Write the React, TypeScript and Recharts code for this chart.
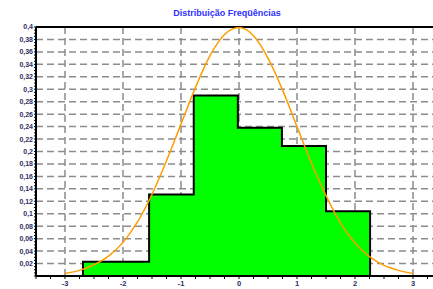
import { ComposedChart, Area, Line, XAxis, YAxis, CartesianGrid, ReferenceLine } from 'recharts';

// histogram: left bin edge -> frequency (step drawn to next edge)
const binEdges = [-3.5, -2.69, -1.55, -0.78, -0.02, 0.74, 1.5, 2.26, 3.5];
const binFreq = [0, 0.023, 0.131, 0.29, 0.238, 0.209, 0.104, 0, 0];

// orange curve
const curveX = [-3, -2.75, -2.5, -2.25, -2, -1.75, -1.5, -1.25, -1, -0.75, -0.5, -0.25, 0, 0.25, 0.5, 0.75, 1, 1.25, 1.5, 1.75, 2, 2.25, 2.5, 2.75, 3];
const curveY = [0.004, 0.009, 0.018, 0.032, 0.054, 0.087, 0.131, 0.185, 0.244, 0.303, 0.354, 0.388, 0.399, 0.386, 0.35, 0.299, 0.24, 0.181, 0.129, 0.085, 0.053, 0.031, 0.017, 0.009, 0.004];

const xLabels = [-3, -2, -1, 0, 1, 2, 3];
const yLabels = [0.02, 0.04, 0.06, 0.08, 0.1, 0.12, 0.14, 0.16, 0.18, 0.2, 0.22, 0.24, 0.26, 0.28, 0.3, 0.32, 0.34, 0.36, 0.38, 0.4];

const histData = binEdges.map((x, i) => ({ x, freq: binFreq[i] }));
const curveData = curveX.map((x, i) => ({ x, dens: curveY[i] }));

const xTicks: number[] = [];
for (let i = -14; i <= 14; i++) xTicks.push(i / 4);
const yTicks: number[] = [];
for (let i = 0; i <= 80; i++) yTicks.push(i / 200);

const isMult = (v: number, step: number) => Math.abs(v / step - Math.round(v / step)) < 1e-6;

const fmtY = (v: number) => (v > 0 && isMult(v, 0.02) ? String(Number(v.toFixed(2))).replace('.', ',') : '');
const fmtX = (v: number) => (isMult(v, 1) && Math.abs(v) < 3.2 ? String(Math.round(v)) : '');

const labelStyle = { fontSize: 7, fontWeight: 'bold' as const, fill: '#2e2e66', fontFamily: 'Liberation Sans, Arial, sans-serif' };

const App = () => (
  <div style={{ position: 'fixed', left: 0, top: 0, width: 433, height: 289, overflow: 'hidden', background: '#fff' }}>
    <div
      style={{
        position: 'absolute', left: 0, top: 8, width: 454, textAlign: 'center',
        fontFamily: 'Liberation Sans, Arial, sans-serif', fontSize: 9, fontWeight: 'bold', color: '#3030ff',
      }}
    >
      Distribuição Freqüências
    </div>
    <ComposedChart width={450} height={300} margin={{ top: 27, right: 8, left: 0, bottom: 4 }}>
      <CartesianGrid
        stroke="#8c8c8c"
        strokeWidth={1.5}
        strokeDasharray="7 4"
        verticalValues={xLabels}
        horizontalValues={yLabels}
      />
      <XAxis
        type="number"
        dataKey="x"
        domain={[-3.5, 3.5]}
        ticks={xTicks}
        interval={0}
        tickFormatter={fmtX}
        tick={{ ...labelStyle, fontSize: 7.5 }}
        tickSize={3}
        tickMargin={2}
        stroke="#000"
        axisLine={{ stroke: '#000', strokeWidth: 2 }}
        height={20}
        allowDataOverflow
      />
      <YAxis
        type="number"
        domain={[0, 0.4]}
        ticks={yTicks}
        interval={0}
        tickFormatter={fmtY}
        tick={labelStyle}
        tickSize={2}
        tickMargin={1}
        stroke="#000"
        axisLine={{ stroke: '#000', strokeWidth: 2 }}
        width={36}
        allowDataOverflow
      />
      <ReferenceLine y={0.4} stroke="#000" strokeWidth={2} />
      <Area
        data={histData}
        dataKey="freq"
        type="stepAfter"
        fill="#00ff00"
        fillOpacity={1}
        stroke="#000"
        strokeWidth={2}
        isAnimationActive={false}
      />
      <Line
        data={curveData}
        dataKey="dens"
        type="monotone"
        stroke="#ff9c00"
        strokeWidth={1.5}
        dot={false}
        isAnimationActive={false}
      />
    </ComposedChart>
  </div>
);

export default App;
